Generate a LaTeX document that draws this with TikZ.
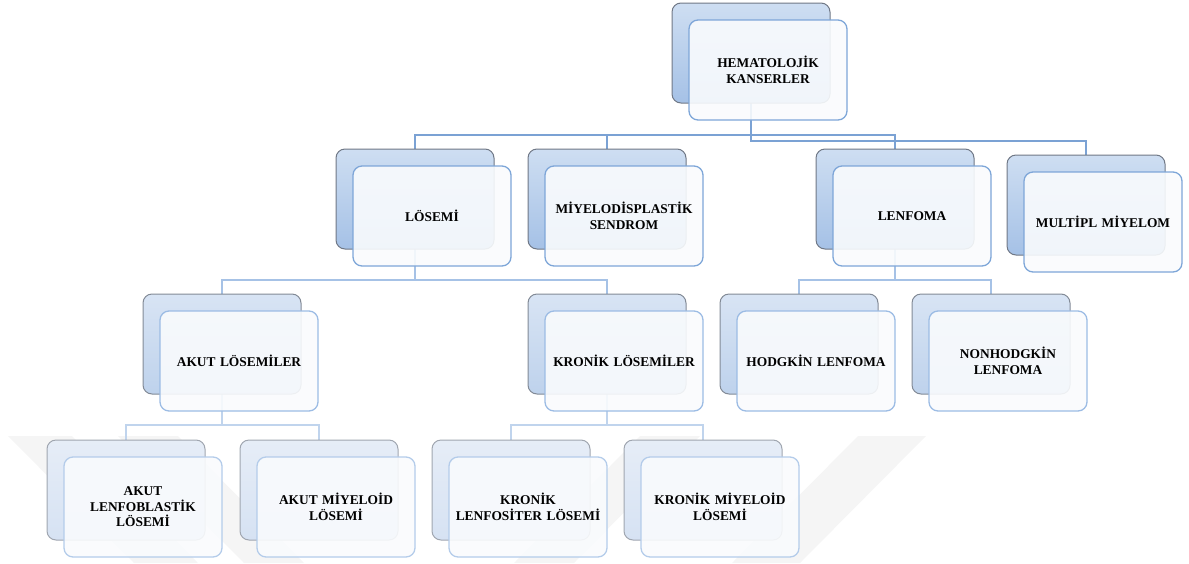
\documentclass[tikz,border=0pt]{standalone}
\usepackage{fontspec}
\setmainfont{Liberation Serif}
\usetikzlibrary{calc}
\pgfdeclarelayer{wm}
\pgfdeclarelayer{background}
\pgfsetlayers{wm,background,main}

\definecolor{bAt}{RGB}{206,222,242}
\definecolor{bAb}{RGB}{165,193,230}
\definecolor{bAd}{RGB}{112,120,134}
\definecolor{bBt}{RGB}{216,228,244}
\definecolor{bBb}{RGB}{190,210,236}
\definecolor{bBd}{RGB}{130,138,150}
\definecolor{bCt}{RGB}{230,237,247}
\definecolor{bCb}{RGB}{214,226,243}
\definecolor{bCd}{RGB}{160,166,176}
\definecolor{frF}{RGB}{249,251,253}
\definecolor{frA}{RGB}{126,166,216}
\definecolor{frB}{RGB}{156,188,228}
\definecolor{frC}{RGB}{180,204,234}
\definecolor{cnA}{RGB}{123,162,212}
\definecolor{cnB}{RGB}{166,194,230}
\definecolor{cnC}{RGB}{192,212,237}

\tikzset{
  backbox/.style={rectangle, rounded corners=9pt, minimum width=158pt, minimum height=100pt,
    inner sep=0pt, outer sep=0pt, anchor=north west, line width=1pt},
  backA/.style={backbox, top color=bAt, bottom color=bAb, draw=bAd},
  backB/.style={backbox, top color=bBt, bottom color=bBb, draw=bBd},
  backC/.style={backbox, top color=bCt, bottom color=bCb, draw=bCd},
  frontbox/.style={rectangle, rounded corners=9pt, minimum width=158pt, minimum height=100pt,
    inner sep=0pt, outer sep=0pt, anchor=north west, line width=1.3pt,
    fill=frF, fill opacity=0.9, text opacity=1, text width=152pt, align=center,
    font=\bfseries\fontsize{13.4}{15.5}\selectfont},
  frontA/.style={frontbox, draw=frA},
  frontB/.style={frontbox, draw=frB},
  frontC/.style={frontbox, draw=frC},
  connA/.style={draw=cnA, line width=2.9pt},
  connB/.style={draw=cnB, line width=2.9pt},
  connC/.style={draw=cnC, line width=2.9pt},
  wmark/.style={fill=black!4, draw=none}
}

\newcommand\pairbox[5]{%
  \node[back#4] (b-#1) at (#2,#3) {};
  \node[front#4] (#1) at (#2+17,#3+17) {#5};
}

\begin{document}
\begin{tikzpicture}[x=1pt, y=-1pt]
\useasboundingbox (0,0) rectangle (1189,563);

% watermark
\begin{pgfonlayer}{wm}
  \fill[wmark] (8,436) -- (72,436) -- (198,563) -- (134,563) -- cycle;
  \fill[wmark] (118,436) -- (178,436) -- (304,563) -- (244,563) -- cycle;
  \fill[wmark] (858,436) -- (926,436) -- (800,563) -- (732,563) -- cycle;
  \fill[wmark] (640,436) -- (700,436) -- (574,563) -- (514,563) -- cycle;
\end{pgfonlayer}

% level 1
\pairbox{hem}{672}{3}{A}{HEMATOLOJİK\\KANSERLER}
% level 2
\pairbox{los}{336}{149}{A}{LÖSEMİ}
\pairbox{mds}{528}{149}{A}{MİYELODİSPLASTİK\\SENDROM}
\pairbox{lenf}{816}{149}{A}{LENFOMA}
\pairbox{mm}{1007}{155}{A}{MULTİPL MİYELOM}
% level 3
\pairbox{akut}{143}{294}{B}{AKUT LÖSEMİLER}
\pairbox{kron}{528}{294}{B}{KRONİK LÖSEMİLER}
\pairbox{hod}{720}{294}{B}{HODGKİN LENFOMA}
\pairbox{nhod}{912}{294}{B}{NONHODGKİN\\LENFOMA}
% level 4
\pairbox{all}{47}{440}{C}{AKUT\\LENFOBLASTİK\\LÖSEMİ}
\pairbox{aml}{240}{440}{C}{AKUT MİYELOİD\\LÖSEMİ}
\pairbox{kll}{432}{440}{C}{KRONİK\\LENFOSİTER LÖSEMİ}
\pairbox{kml}{624}{440}{C}{KRONİK MİYELOİD\\LÖSEMİ}

% connectors
\begin{pgfonlayer}{background}
  \draw[connA] (b-hem.south) |- (b-los.north |- 0,135) -- (b-los.north);
  \draw[connA] (b-hem.south) |- (b-mds.north |- 0,135) -- (b-mds.north);
  \draw[connA] (b-hem.south) |- (b-lenf.north |- 0,135) -- (b-lenf.north);
  \draw[connA] (b-hem.south) |- (b-mm.north |- 0,141) -- (b-mm.north);

  \draw[connB] (b-los.south) |- (b-akut.north |- 0,280) -- (b-akut.north);
  \draw[connB] (b-los.south) |- (b-kron.north |- 0,280) -- (b-kron.north);
  \draw[connB] (b-lenf.south) |- (b-hod.north |- 0,280) -- (b-hod.north);
  \draw[connB] (b-lenf.south) |- (b-nhod.north |- 0,280) -- (b-nhod.north);

  \draw[connC] (b-akut.south) |- (b-all.north |- 0,425) -- (b-all.north);
  \draw[connC] (b-akut.south) |- (b-aml.north |- 0,425) -- (b-aml.north);
  \draw[connC] (b-kron.south) |- (b-kll.north |- 0,425) -- (b-kll.north);
  \draw[connC] (b-kron.south) |- (b-kml.north |- 0,425) -- (b-kml.north);
\end{pgfonlayer}
\end{tikzpicture}
\end{document}
